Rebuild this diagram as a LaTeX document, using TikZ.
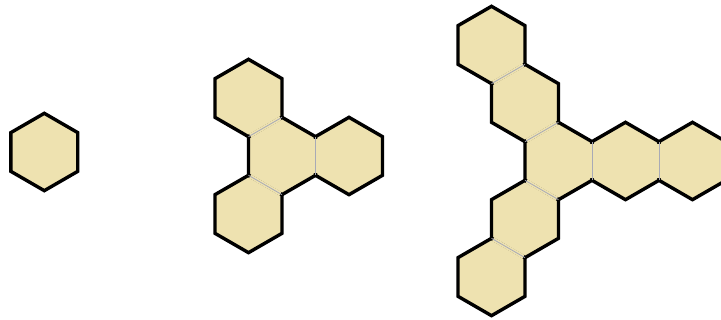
\documentclass[tikz,border=0pt]{standalone}
\usetikzlibrary{calc}
\definecolor{HexClr}{RGB}{238,226,176}
\definecolor{SeamClr}{RGB}{168,170,182}
\newcommand{\hexr}{38.68}

\begin{document}
\begin{tikzpicture}[x=1pt,y=1pt,
  hexfill/.style={fill=HexClr},
  hexrim/.style={draw=black,line width=3.4pt,line join=miter},
  seamcover/.style={draw=HexClr,line width=4.2pt,shorten <=1.9pt,shorten >=1.9pt},
  seam/.style={draw=SeamClr,line width=0.8pt}]
\useasboundingbox (0,0) rectangle (721,320);

% centres of the cells
\coordinate (A0) at (44.3,168);

\coordinate (B0) at (282,164);
\coordinate (B1) at (248.5,222);
\coordinate (B2) at (349,164);
\coordinate (B3) at (248.5,106);

\coordinate (C0) at (558.5,159);
\coordinate (C1) at (625.5,159);
\coordinate (C2) at (692.5,159);
\coordinate (C3) at (525,217);
\coordinate (C4) at (491.5,275);
\coordinate (C5) at (525,101);
\coordinate (C6) at (491.5,43);

\foreach \c in {A0,B0,B1,B2,B3,C0,C1,C2,C3,C4,C5,C6}
  \fill[hexfill] (\c) +(30:\hexr) -- +(90:\hexr) -- +(150:\hexr) -- +(210:\hexr)
    -- +(270:\hexr) -- +(330:\hexr) -- cycle;

\foreach \c in {A0,B0,B1,B2,B3,C0,C1,C2,C3,C4,C5,C6}
  \draw[hexrim] (\c) +(30:\hexr) -- +(90:\hexr) -- +(150:\hexr) -- +(210:\hexr)
    -- +(270:\hexr) -- +(330:\hexr) -- cycle;

% shared sides: cell / direction of the neighbour
\foreach \c/\a in {B0/0,B0/120,B0/240,C0/0,C0/120,C0/240,C1/0,C3/120,C5/240}{
  \draw[seamcover] ($(\c)+(\a-30:\hexr)$) -- ($(\c)+(\a+30:\hexr)$);
  \draw[seam] ($(\c)+(\a-30:\hexr)$) -- ($(\c)+(\a+30:\hexr)$);
}

\end{tikzpicture}
\end{document}
